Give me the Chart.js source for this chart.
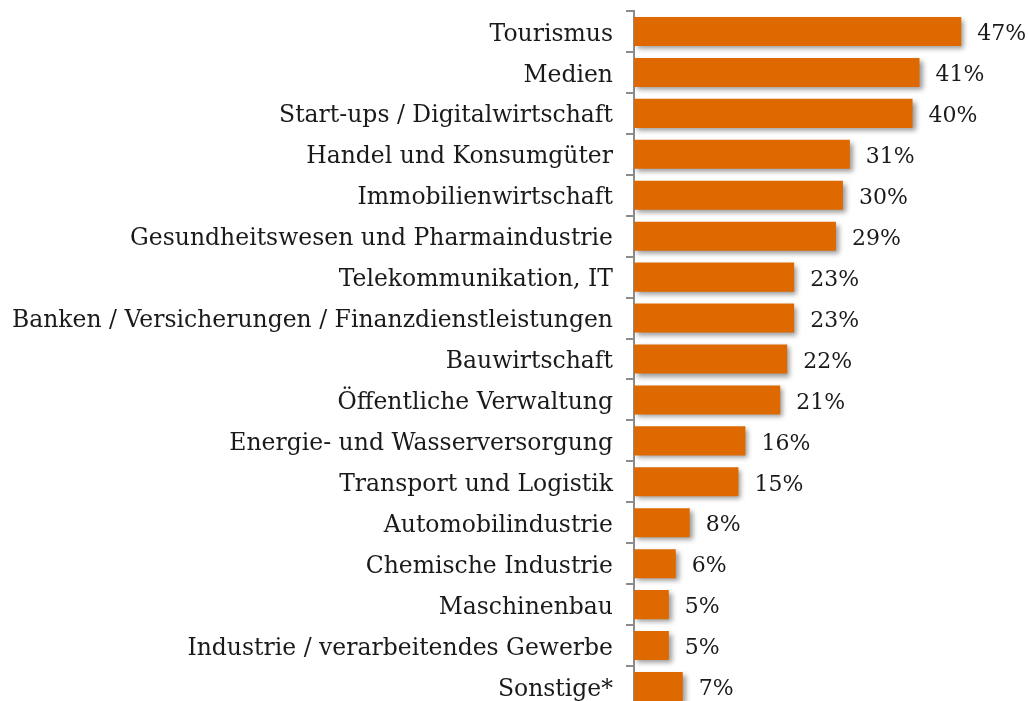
<!DOCTYPE html>
<html>
<head>
<meta charset="utf-8">
<script src="https://cdn.jsdelivr.net/npm/chart.js@4"></script>
<style>
html,body{margin:0;padding:0;background:#fff;overflow:hidden;}
canvas{display:block;}
</style>
</head>
<body>
<canvas id="c" width="1028" height="720"></canvas>
<script>
const categories = [
  "Tourismus",
  "Medien",
  "Start-ups / Digitalwirtschaft",
  "Handel und Konsumgüter",
  "Immobilienwirtschaft",
  "Gesundheitswesen und Pharmaindustrie",
  "Telekommunikation, IT",
  "Banken / Versicherungen / Finanzdienstleistungen",
  "Bauwirtschaft",
  "Öffentliche Verwaltung",
  "Energie- und Wasserversorgung",
  "Transport und Logistik",
  "Automobilindustrie",
  "Chemische Industrie",
  "Maschinenbau",
  "Industrie / verarbeitendes Gewerbe",
  "Sonstige*"
];
const values = [47, 41, 40, 31, 30, 29, 23, 23, 22, 21, 16, 15, 8, 6, 5, 5, 7];

const FONT = "'DejaVu Serif', Georgia, serif";

const shadowPlugin = {
  id: 'shadow',
  beforeDatasetsDraw(chart) {
    const ctx = chart.ctx;
    ctx.save();
    ctx.shadowColor = 'rgba(0,0,0,0.4)';
    ctx.shadowBlur = 5;
    ctx.shadowOffsetX = 3;
    ctx.shadowOffsetY = 3;
  },
  afterDatasetsDraw(chart) {
    chart.ctx.restore();
  }
};

const labelPlugin = {
  id: 'valueLabels',
  afterDraw(chart) {
    const ctx = chart.ctx;
    const meta = chart.getDatasetMeta(0);
    ctx.save();
    ctx.font = "22px " + FONT;
    ctx.fillStyle = '#1a1a1a';
    ctx.textAlign = 'left';
    ctx.textBaseline = 'middle';
    meta.data.forEach((bar, i) => {
      ctx.fillText(values[i] + '%', bar.x + 16, bar.y + 3);
    });
    ctx.restore();
  }
};

new Chart(document.getElementById('c'), {
  type: 'bar',
  data: {
    labels: categories,
    datasets: [{
      data: values,
      backgroundColor: '#DD6900',
      borderWidth: 0,
      categoryPercentage: 1,
      barPercentage: 0.71
    }]
  },
  options: {
    indexAxis: 'y',
    responsive: false,
    animation: false,
    layout: { padding: { top: 11, bottom: 13, right: 11, left: 0 } },
    plugins: { legend: { display: false }, tooltip: { enabled: false } },
    scales: {
      x: { display: false, min: 0, max: 55 },
      y: {
        afterFit(scale) { scale.width = 634; scale.paddingTop = 0; scale.paddingBottom = 0; },
        border: { display: true, color: '#8c8c8c', width: 2 },
        grid: { display: true, offset: true, drawOnChartArea: false, drawTicks: true, tickLength: 8, color: '#8c8c8c', lineWidth: 2 },
        ticks: { color: '#1a1a1a', padding: 13, labelOffset: 3, font: { family: FONT, size: 23.5 } }
      }
    }
  },
  plugins: [shadowPlugin, labelPlugin]
});
</script>
</body>
</html>
